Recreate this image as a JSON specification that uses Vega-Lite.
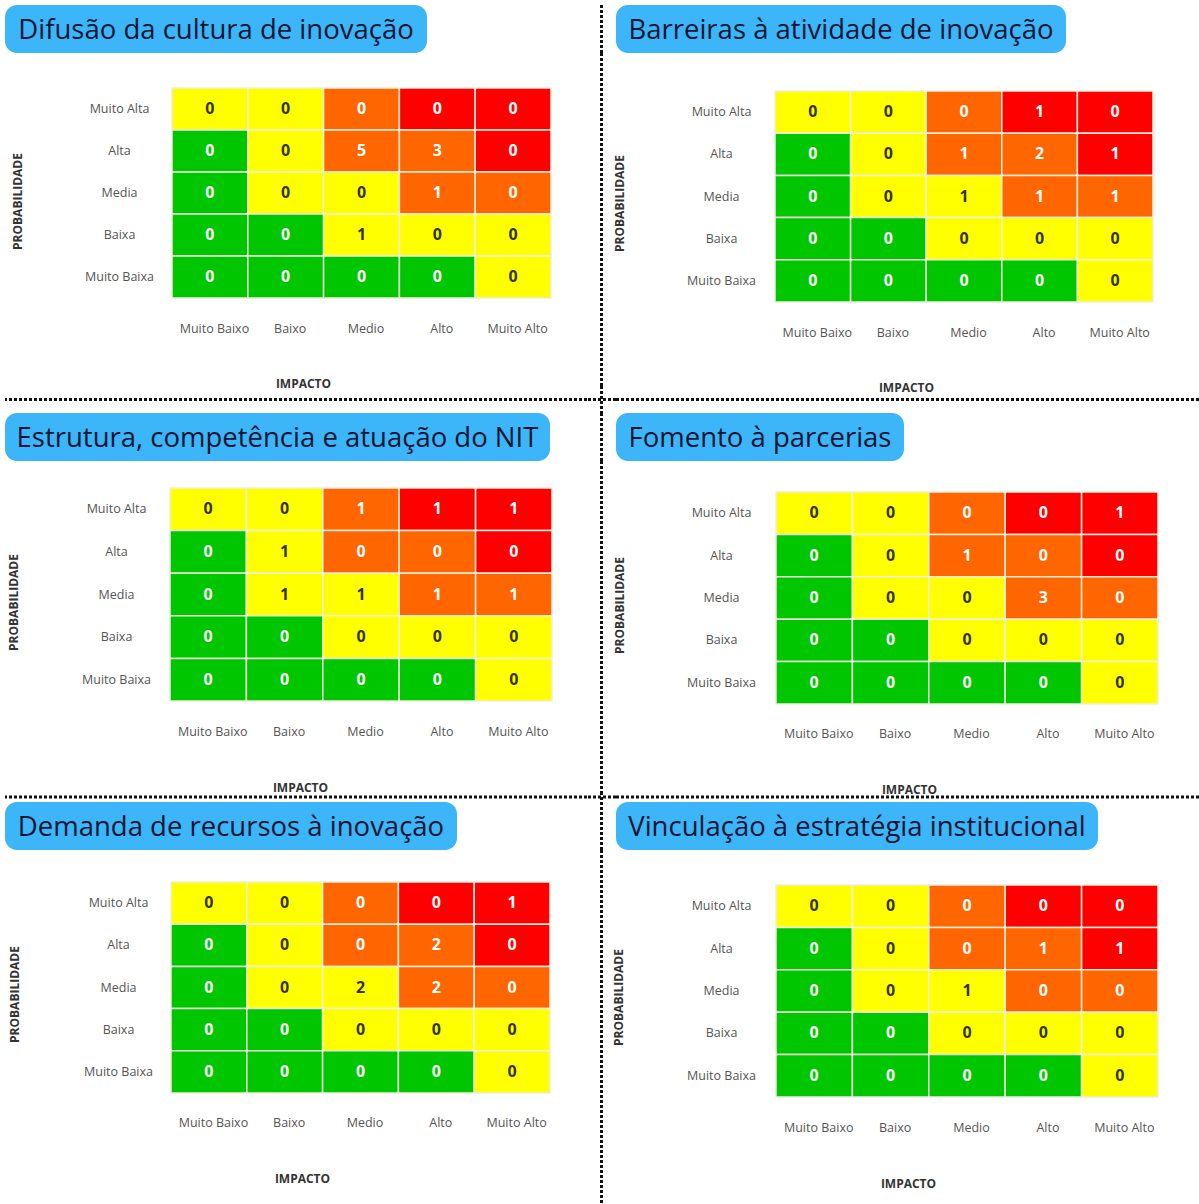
{
  "$schema": "https://vega.github.io/schema/vega-lite/v6.json",
  "background": "white",
  "padding": {"left": 3, "top": 3, "right": 0, "bottom": 0},
  "columns": 3,
  "spacing": 0,
  "bounds": "flush",
  "config": {
    "view": {"stroke": null},
    "font": "Open Sans",
    "axis": {
      "domain": false, "ticks": false, "tickSize": 0, "grid": false,
      "labelPadding": 0, "labelFont": "Open Sans", "labelFontSize": 12.5, "labelColor": "#555555",
      "labelBaseline": "middle",
      "titleFont": "Open Sans", "titleFontSize": 12, "titleFontWeight": "bold", "titleColor": "#333333"
    },
    "axisX": {"labelAngle": 0, "labelOffset": 4.5, "titleBaseline": "middle", "titleAlign": "center"},
    "axisY": {"labelAlign": "center", "titleAngle": 270, "titleBaseline": "middle", "titleAlign": "center"}
  },
  "datasets": {
    "riscos": [
      {"painel":"difusao","probabilidade":"Muito Alta","impacto":"Muito Baixo","nivel":"Moderado","qtd":0},
      {"painel":"difusao","probabilidade":"Muito Alta","impacto":"Baixo","nivel":"Moderado","qtd":0},
      {"painel":"difusao","probabilidade":"Muito Alta","impacto":"Medio","nivel":"Alto","qtd":0},
      {"painel":"difusao","probabilidade":"Muito Alta","impacto":"Alto","nivel":"Crítico","qtd":0},
      {"painel":"difusao","probabilidade":"Muito Alta","impacto":"Muito Alto","nivel":"Crítico","qtd":0},
      {"painel":"difusao","probabilidade":"Alta","impacto":"Muito Baixo","nivel":"Baixo","qtd":0},
      {"painel":"difusao","probabilidade":"Alta","impacto":"Baixo","nivel":"Moderado","qtd":0},
      {"painel":"difusao","probabilidade":"Alta","impacto":"Medio","nivel":"Alto","qtd":5},
      {"painel":"difusao","probabilidade":"Alta","impacto":"Alto","nivel":"Alto","qtd":3},
      {"painel":"difusao","probabilidade":"Alta","impacto":"Muito Alto","nivel":"Crítico","qtd":0},
      {"painel":"difusao","probabilidade":"Media","impacto":"Muito Baixo","nivel":"Baixo","qtd":0},
      {"painel":"difusao","probabilidade":"Media","impacto":"Baixo","nivel":"Moderado","qtd":0},
      {"painel":"difusao","probabilidade":"Media","impacto":"Medio","nivel":"Moderado","qtd":0},
      {"painel":"difusao","probabilidade":"Media","impacto":"Alto","nivel":"Alto","qtd":1},
      {"painel":"difusao","probabilidade":"Media","impacto":"Muito Alto","nivel":"Alto","qtd":0},
      {"painel":"difusao","probabilidade":"Baixa","impacto":"Muito Baixo","nivel":"Baixo","qtd":0},
      {"painel":"difusao","probabilidade":"Baixa","impacto":"Baixo","nivel":"Baixo","qtd":0},
      {"painel":"difusao","probabilidade":"Baixa","impacto":"Medio","nivel":"Moderado","qtd":1},
      {"painel":"difusao","probabilidade":"Baixa","impacto":"Alto","nivel":"Moderado","qtd":0},
      {"painel":"difusao","probabilidade":"Baixa","impacto":"Muito Alto","nivel":"Moderado","qtd":0},
      {"painel":"difusao","probabilidade":"Muito Baixa","impacto":"Muito Baixo","nivel":"Baixo","qtd":0},
      {"painel":"difusao","probabilidade":"Muito Baixa","impacto":"Baixo","nivel":"Baixo","qtd":0},
      {"painel":"difusao","probabilidade":"Muito Baixa","impacto":"Medio","nivel":"Baixo","qtd":0},
      {"painel":"difusao","probabilidade":"Muito Baixa","impacto":"Alto","nivel":"Baixo","qtd":0},
      {"painel":"difusao","probabilidade":"Muito Baixa","impacto":"Muito Alto","nivel":"Moderado","qtd":0},

      {"painel":"barreiras","probabilidade":"Muito Alta","impacto":"Muito Baixo","nivel":"Moderado","qtd":0},
      {"painel":"barreiras","probabilidade":"Muito Alta","impacto":"Baixo","nivel":"Moderado","qtd":0},
      {"painel":"barreiras","probabilidade":"Muito Alta","impacto":"Medio","nivel":"Alto","qtd":0},
      {"painel":"barreiras","probabilidade":"Muito Alta","impacto":"Alto","nivel":"Crítico","qtd":1},
      {"painel":"barreiras","probabilidade":"Muito Alta","impacto":"Muito Alto","nivel":"Crítico","qtd":0},
      {"painel":"barreiras","probabilidade":"Alta","impacto":"Muito Baixo","nivel":"Baixo","qtd":0},
      {"painel":"barreiras","probabilidade":"Alta","impacto":"Baixo","nivel":"Moderado","qtd":0},
      {"painel":"barreiras","probabilidade":"Alta","impacto":"Medio","nivel":"Alto","qtd":1},
      {"painel":"barreiras","probabilidade":"Alta","impacto":"Alto","nivel":"Alto","qtd":2},
      {"painel":"barreiras","probabilidade":"Alta","impacto":"Muito Alto","nivel":"Crítico","qtd":1},
      {"painel":"barreiras","probabilidade":"Media","impacto":"Muito Baixo","nivel":"Baixo","qtd":0},
      {"painel":"barreiras","probabilidade":"Media","impacto":"Baixo","nivel":"Moderado","qtd":0},
      {"painel":"barreiras","probabilidade":"Media","impacto":"Medio","nivel":"Moderado","qtd":1},
      {"painel":"barreiras","probabilidade":"Media","impacto":"Alto","nivel":"Alto","qtd":1},
      {"painel":"barreiras","probabilidade":"Media","impacto":"Muito Alto","nivel":"Alto","qtd":1},
      {"painel":"barreiras","probabilidade":"Baixa","impacto":"Muito Baixo","nivel":"Baixo","qtd":0},
      {"painel":"barreiras","probabilidade":"Baixa","impacto":"Baixo","nivel":"Baixo","qtd":0},
      {"painel":"barreiras","probabilidade":"Baixa","impacto":"Medio","nivel":"Moderado","qtd":0},
      {"painel":"barreiras","probabilidade":"Baixa","impacto":"Alto","nivel":"Moderado","qtd":0},
      {"painel":"barreiras","probabilidade":"Baixa","impacto":"Muito Alto","nivel":"Moderado","qtd":0},
      {"painel":"barreiras","probabilidade":"Muito Baixa","impacto":"Muito Baixo","nivel":"Baixo","qtd":0},
      {"painel":"barreiras","probabilidade":"Muito Baixa","impacto":"Baixo","nivel":"Baixo","qtd":0},
      {"painel":"barreiras","probabilidade":"Muito Baixa","impacto":"Medio","nivel":"Baixo","qtd":0},
      {"painel":"barreiras","probabilidade":"Muito Baixa","impacto":"Alto","nivel":"Baixo","qtd":0},
      {"painel":"barreiras","probabilidade":"Muito Baixa","impacto":"Muito Alto","nivel":"Moderado","qtd":0},

      {"painel":"estrutura","probabilidade":"Muito Alta","impacto":"Muito Baixo","nivel":"Moderado","qtd":0},
      {"painel":"estrutura","probabilidade":"Muito Alta","impacto":"Baixo","nivel":"Moderado","qtd":0},
      {"painel":"estrutura","probabilidade":"Muito Alta","impacto":"Medio","nivel":"Alto","qtd":1},
      {"painel":"estrutura","probabilidade":"Muito Alta","impacto":"Alto","nivel":"Crítico","qtd":1},
      {"painel":"estrutura","probabilidade":"Muito Alta","impacto":"Muito Alto","nivel":"Crítico","qtd":1},
      {"painel":"estrutura","probabilidade":"Alta","impacto":"Muito Baixo","nivel":"Baixo","qtd":0},
      {"painel":"estrutura","probabilidade":"Alta","impacto":"Baixo","nivel":"Moderado","qtd":1},
      {"painel":"estrutura","probabilidade":"Alta","impacto":"Medio","nivel":"Alto","qtd":0},
      {"painel":"estrutura","probabilidade":"Alta","impacto":"Alto","nivel":"Alto","qtd":0},
      {"painel":"estrutura","probabilidade":"Alta","impacto":"Muito Alto","nivel":"Crítico","qtd":0},
      {"painel":"estrutura","probabilidade":"Media","impacto":"Muito Baixo","nivel":"Baixo","qtd":0},
      {"painel":"estrutura","probabilidade":"Media","impacto":"Baixo","nivel":"Moderado","qtd":1},
      {"painel":"estrutura","probabilidade":"Media","impacto":"Medio","nivel":"Moderado","qtd":1},
      {"painel":"estrutura","probabilidade":"Media","impacto":"Alto","nivel":"Alto","qtd":1},
      {"painel":"estrutura","probabilidade":"Media","impacto":"Muito Alto","nivel":"Alto","qtd":1},
      {"painel":"estrutura","probabilidade":"Baixa","impacto":"Muito Baixo","nivel":"Baixo","qtd":0},
      {"painel":"estrutura","probabilidade":"Baixa","impacto":"Baixo","nivel":"Baixo","qtd":0},
      {"painel":"estrutura","probabilidade":"Baixa","impacto":"Medio","nivel":"Moderado","qtd":0},
      {"painel":"estrutura","probabilidade":"Baixa","impacto":"Alto","nivel":"Moderado","qtd":0},
      {"painel":"estrutura","probabilidade":"Baixa","impacto":"Muito Alto","nivel":"Moderado","qtd":0},
      {"painel":"estrutura","probabilidade":"Muito Baixa","impacto":"Muito Baixo","nivel":"Baixo","qtd":0},
      {"painel":"estrutura","probabilidade":"Muito Baixa","impacto":"Baixo","nivel":"Baixo","qtd":0},
      {"painel":"estrutura","probabilidade":"Muito Baixa","impacto":"Medio","nivel":"Baixo","qtd":0},
      {"painel":"estrutura","probabilidade":"Muito Baixa","impacto":"Alto","nivel":"Baixo","qtd":0},
      {"painel":"estrutura","probabilidade":"Muito Baixa","impacto":"Muito Alto","nivel":"Moderado","qtd":0},

      {"painel":"fomento","probabilidade":"Muito Alta","impacto":"Muito Baixo","nivel":"Moderado","qtd":0},
      {"painel":"fomento","probabilidade":"Muito Alta","impacto":"Baixo","nivel":"Moderado","qtd":0},
      {"painel":"fomento","probabilidade":"Muito Alta","impacto":"Medio","nivel":"Alto","qtd":0},
      {"painel":"fomento","probabilidade":"Muito Alta","impacto":"Alto","nivel":"Crítico","qtd":0},
      {"painel":"fomento","probabilidade":"Muito Alta","impacto":"Muito Alto","nivel":"Crítico","qtd":1},
      {"painel":"fomento","probabilidade":"Alta","impacto":"Muito Baixo","nivel":"Baixo","qtd":0},
      {"painel":"fomento","probabilidade":"Alta","impacto":"Baixo","nivel":"Moderado","qtd":0},
      {"painel":"fomento","probabilidade":"Alta","impacto":"Medio","nivel":"Alto","qtd":1},
      {"painel":"fomento","probabilidade":"Alta","impacto":"Alto","nivel":"Alto","qtd":0},
      {"painel":"fomento","probabilidade":"Alta","impacto":"Muito Alto","nivel":"Crítico","qtd":0},
      {"painel":"fomento","probabilidade":"Media","impacto":"Muito Baixo","nivel":"Baixo","qtd":0},
      {"painel":"fomento","probabilidade":"Media","impacto":"Baixo","nivel":"Moderado","qtd":0},
      {"painel":"fomento","probabilidade":"Media","impacto":"Medio","nivel":"Moderado","qtd":0},
      {"painel":"fomento","probabilidade":"Media","impacto":"Alto","nivel":"Alto","qtd":3},
      {"painel":"fomento","probabilidade":"Media","impacto":"Muito Alto","nivel":"Alto","qtd":0},
      {"painel":"fomento","probabilidade":"Baixa","impacto":"Muito Baixo","nivel":"Baixo","qtd":0},
      {"painel":"fomento","probabilidade":"Baixa","impacto":"Baixo","nivel":"Baixo","qtd":0},
      {"painel":"fomento","probabilidade":"Baixa","impacto":"Medio","nivel":"Moderado","qtd":0},
      {"painel":"fomento","probabilidade":"Baixa","impacto":"Alto","nivel":"Moderado","qtd":0},
      {"painel":"fomento","probabilidade":"Baixa","impacto":"Muito Alto","nivel":"Moderado","qtd":0},
      {"painel":"fomento","probabilidade":"Muito Baixa","impacto":"Muito Baixo","nivel":"Baixo","qtd":0},
      {"painel":"fomento","probabilidade":"Muito Baixa","impacto":"Baixo","nivel":"Baixo","qtd":0},
      {"painel":"fomento","probabilidade":"Muito Baixa","impacto":"Medio","nivel":"Baixo","qtd":0},
      {"painel":"fomento","probabilidade":"Muito Baixa","impacto":"Alto","nivel":"Baixo","qtd":0},
      {"painel":"fomento","probabilidade":"Muito Baixa","impacto":"Muito Alto","nivel":"Moderado","qtd":0},

      {"painel":"demanda","probabilidade":"Muito Alta","impacto":"Muito Baixo","nivel":"Moderado","qtd":0},
      {"painel":"demanda","probabilidade":"Muito Alta","impacto":"Baixo","nivel":"Moderado","qtd":0},
      {"painel":"demanda","probabilidade":"Muito Alta","impacto":"Medio","nivel":"Alto","qtd":0},
      {"painel":"demanda","probabilidade":"Muito Alta","impacto":"Alto","nivel":"Crítico","qtd":0},
      {"painel":"demanda","probabilidade":"Muito Alta","impacto":"Muito Alto","nivel":"Crítico","qtd":1},
      {"painel":"demanda","probabilidade":"Alta","impacto":"Muito Baixo","nivel":"Baixo","qtd":0},
      {"painel":"demanda","probabilidade":"Alta","impacto":"Baixo","nivel":"Moderado","qtd":0},
      {"painel":"demanda","probabilidade":"Alta","impacto":"Medio","nivel":"Alto","qtd":0},
      {"painel":"demanda","probabilidade":"Alta","impacto":"Alto","nivel":"Alto","qtd":2},
      {"painel":"demanda","probabilidade":"Alta","impacto":"Muito Alto","nivel":"Crítico","qtd":0},
      {"painel":"demanda","probabilidade":"Media","impacto":"Muito Baixo","nivel":"Baixo","qtd":0},
      {"painel":"demanda","probabilidade":"Media","impacto":"Baixo","nivel":"Moderado","qtd":0},
      {"painel":"demanda","probabilidade":"Media","impacto":"Medio","nivel":"Moderado","qtd":2},
      {"painel":"demanda","probabilidade":"Media","impacto":"Alto","nivel":"Alto","qtd":2},
      {"painel":"demanda","probabilidade":"Media","impacto":"Muito Alto","nivel":"Alto","qtd":0},
      {"painel":"demanda","probabilidade":"Baixa","impacto":"Muito Baixo","nivel":"Baixo","qtd":0},
      {"painel":"demanda","probabilidade":"Baixa","impacto":"Baixo","nivel":"Baixo","qtd":0},
      {"painel":"demanda","probabilidade":"Baixa","impacto":"Medio","nivel":"Moderado","qtd":0},
      {"painel":"demanda","probabilidade":"Baixa","impacto":"Alto","nivel":"Moderado","qtd":0},
      {"painel":"demanda","probabilidade":"Baixa","impacto":"Muito Alto","nivel":"Moderado","qtd":0},
      {"painel":"demanda","probabilidade":"Muito Baixa","impacto":"Muito Baixo","nivel":"Baixo","qtd":0},
      {"painel":"demanda","probabilidade":"Muito Baixa","impacto":"Baixo","nivel":"Baixo","qtd":0},
      {"painel":"demanda","probabilidade":"Muito Baixa","impacto":"Medio","nivel":"Baixo","qtd":0},
      {"painel":"demanda","probabilidade":"Muito Baixa","impacto":"Alto","nivel":"Baixo","qtd":0},
      {"painel":"demanda","probabilidade":"Muito Baixa","impacto":"Muito Alto","nivel":"Moderado","qtd":0},

      {"painel":"vinculacao","probabilidade":"Muito Alta","impacto":"Muito Baixo","nivel":"Moderado","qtd":0},
      {"painel":"vinculacao","probabilidade":"Muito Alta","impacto":"Baixo","nivel":"Moderado","qtd":0},
      {"painel":"vinculacao","probabilidade":"Muito Alta","impacto":"Medio","nivel":"Alto","qtd":0},
      {"painel":"vinculacao","probabilidade":"Muito Alta","impacto":"Alto","nivel":"Crítico","qtd":0},
      {"painel":"vinculacao","probabilidade":"Muito Alta","impacto":"Muito Alto","nivel":"Crítico","qtd":0},
      {"painel":"vinculacao","probabilidade":"Alta","impacto":"Muito Baixo","nivel":"Baixo","qtd":0},
      {"painel":"vinculacao","probabilidade":"Alta","impacto":"Baixo","nivel":"Moderado","qtd":0},
      {"painel":"vinculacao","probabilidade":"Alta","impacto":"Medio","nivel":"Alto","qtd":0},
      {"painel":"vinculacao","probabilidade":"Alta","impacto":"Alto","nivel":"Alto","qtd":1},
      {"painel":"vinculacao","probabilidade":"Alta","impacto":"Muito Alto","nivel":"Crítico","qtd":1},
      {"painel":"vinculacao","probabilidade":"Media","impacto":"Muito Baixo","nivel":"Baixo","qtd":0},
      {"painel":"vinculacao","probabilidade":"Media","impacto":"Baixo","nivel":"Moderado","qtd":0},
      {"painel":"vinculacao","probabilidade":"Media","impacto":"Medio","nivel":"Moderado","qtd":1},
      {"painel":"vinculacao","probabilidade":"Media","impacto":"Alto","nivel":"Alto","qtd":0},
      {"painel":"vinculacao","probabilidade":"Media","impacto":"Muito Alto","nivel":"Alto","qtd":0},
      {"painel":"vinculacao","probabilidade":"Baixa","impacto":"Muito Baixo","nivel":"Baixo","qtd":0},
      {"painel":"vinculacao","probabilidade":"Baixa","impacto":"Baixo","nivel":"Baixo","qtd":0},
      {"painel":"vinculacao","probabilidade":"Baixa","impacto":"Medio","nivel":"Moderado","qtd":0},
      {"painel":"vinculacao","probabilidade":"Baixa","impacto":"Alto","nivel":"Moderado","qtd":0},
      {"painel":"vinculacao","probabilidade":"Baixa","impacto":"Muito Alto","nivel":"Moderado","qtd":0},
      {"painel":"vinculacao","probabilidade":"Muito Baixa","impacto":"Muito Baixo","nivel":"Baixo","qtd":0},
      {"painel":"vinculacao","probabilidade":"Muito Baixa","impacto":"Baixo","nivel":"Baixo","qtd":0},
      {"painel":"vinculacao","probabilidade":"Muito Baixa","impacto":"Medio","nivel":"Baixo","qtd":0},
      {"painel":"vinculacao","probabilidade":"Muito Baixa","impacto":"Alto","nivel":"Baixo","qtd":0},
      {"painel":"vinculacao","probabilidade":"Muito Baixa","impacto":"Muito Alto","nivel":"Moderado","qtd":0}
    ]
  },
  "concat": [
    {"width": 422, "height": 48, "view": {"fill": "#3cb5f9", "stroke": null, "cornerRadius": 12},
     "data": {"values": [{"titulo": "Difusão da cultura de inovação"}]},
     "mark": {"type": "text", "font": "Open Sans", "fontSize": 27.5, "color": "#0a1533", "align": "center", "baseline": "middle", "dy": 2},
     "encoding": {"text": {"field": "titulo"}}},
    {"width": 29, "height": 48, "data": {"values": [{}]},
     "mark": {"type": "rule", "color": "#111111", "strokeWidth": 3, "strokeDash": [3, 2]},
     "encoding": {"x": {"datum": 0.5, "type": "quantitative", "scale": {"domain": [0, 1]}, "axis": null}}},
    {"width": 450, "height": 48, "view": {"fill": "#3cb5f9", "stroke": null, "cornerRadius": 12},
     "data": {"values": [{"titulo": "Barreiras à atividade de inovação"}]},
     "mark": {"type": "text", "font": "Open Sans", "fontSize": 27.5, "color": "#0a1533", "align": "center", "baseline": "middle", "dy": 2},
     "encoding": {"text": {"field": "titulo"}}},

    {"width": 582, "height": 333, "data": {"name": "riscos"},
     "transform": [{"filter": "datum.painel === 'difusao'"}],
     "encoding": {
       "x": {"field": "impacto", "type": "nominal", "sort": ["Muito Baixo", "Baixo", "Medio", "Alto", "Muito Alto"],
             "scale": {"range": [167, 546], "paddingInner": 0, "paddingOuter": 0},
             "axis": {"orient": "bottom", "offset": -58, "title": "IMPACTO", "titleX": 298, "titleY": 55}},
       "y": {"field": "probabilidade", "type": "nominal", "sort": ["Muito Alta", "Alta", "Media", "Baixa", "Muito Baixa"],
             "scale": {"range": [35, 245], "paddingInner": 0, "paddingOuter": 0},
             "axis": {"offset": -114, "title": "PROBABILIDADE", "titleX": -102, "titleY": 148}}
     },
     "layer": [
       {"mark": {"type": "rect", "stroke": "#eeeedd", "strokeWidth": 1.5},
        "encoding": {"color": {"field": "nivel", "type": "nominal", "legend": null,
          "scale": {"domain": ["Baixo", "Moderado", "Alto", "Crítico"], "range": ["#00c600", "#ffff00", "#ff6600", "#fe0000"]}}}},
       {"mark": {"type": "text", "font": "Open Sans", "fontSize": 16, "fontWeight": "bold"},
        "encoding": {"text": {"field": "qtd", "type": "quantitative"},
          "color": {"condition": {"test": "datum.nivel === 'Moderado'", "value": "#33331c"}, "value": "#ffffff"}}}
     ]},
    {"width": 29, "height": 333, "data": {"values": [{}]},
     "mark": {"type": "rule", "color": "#111111", "strokeWidth": 3, "strokeDash": [3, 2]},
     "encoding": {"x": {"datum": 0.5, "type": "quantitative", "scale": {"domain": [0, 1]}, "axis": null}}},
    {"width": 583, "height": 333, "data": {"name": "riscos"},
     "transform": [{"filter": "datum.painel === 'barreiras'"}],
     "encoding": {
       "x": {"field": "impacto", "type": "nominal", "sort": ["Muito Baixo", "Baixo", "Medio", "Alto", "Muito Alto"],
             "scale": {"range": [159, 537], "paddingInner": 0, "paddingOuter": 0},
             "axis": {"orient": "bottom", "offset": -54, "title": "IMPACTO", "titleX": 290, "titleY": 55}},
       "y": {"field": "probabilidade", "type": "nominal", "sort": ["Muito Alta", "Alta", "Media", "Baixa", "Muito Baixa"],
             "scale": {"range": [38, 249], "paddingInner": 0, "paddingOuter": 0},
             "axis": {"offset": -105, "title": "PROBABILIDADE", "titleX": -102, "titleY": 150}}
     },
     "layer": [
       {"mark": {"type": "rect", "stroke": "#eeeedd", "strokeWidth": 1.5},
        "encoding": {"color": {"field": "nivel", "type": "nominal", "legend": null,
          "scale": {"domain": ["Baixo", "Moderado", "Alto", "Crítico"], "range": ["#00c600", "#ffff00", "#ff6600", "#fe0000"]}}}},
       {"mark": {"type": "text", "font": "Open Sans", "fontSize": 16, "fontWeight": "bold"},
        "encoding": {"text": {"field": "qtd", "type": "quantitative"},
          "color": {"condition": {"test": "datum.nivel === 'Moderado'", "value": "#33331c"}, "value": "#ffffff"}}}
     ]},

    {"width": 582, "height": 27, "data": {"values": [{}]},
     "mark": {"type": "rule", "color": "#111111", "strokeWidth": 3, "strokeDash": [3, 2]},
     "encoding": {"y": {"datum": 0.5, "type": "quantitative", "scale": {"domain": [0, 1]}, "axis": null}}},
    {"width": 29, "height": 27, "data": {"values": [{}]},
     "layer": [
       {"mark": {"type": "rule", "color": "#111111", "strokeWidth": 3, "strokeDash": [3, 2]},
        "encoding": {"x": {"datum": 0.5, "type": "quantitative", "scale": {"domain": [0, 1]}, "axis": null}}},
       {"mark": {"type": "rule", "color": "#111111", "strokeWidth": 3, "strokeDash": [3, 2]},
        "encoding": {"y": {"datum": 0.5, "type": "quantitative", "scale": {"domain": [0, 1]}, "axis": null}}}
     ]},
    {"width": 583, "height": 27, "data": {"values": [{}]},
     "mark": {"type": "rule", "color": "#111111", "strokeWidth": 3, "strokeDash": [3, 2]},
     "encoding": {"y": {"datum": 0.5, "type": "quantitative", "scale": {"domain": [0, 1]}, "axis": null}}},

    {"width": 545, "height": 48, "view": {"fill": "#3cb5f9", "stroke": null, "cornerRadius": 12},
     "data": {"values": [{"titulo": "Estrutura, competência e atuação do NIT"}]},
     "mark": {"type": "text", "font": "Open Sans", "fontSize": 27.5, "color": "#0a1533", "align": "center", "baseline": "middle", "dy": 2},
     "encoding": {"text": {"field": "titulo"}}},
    {"width": 29, "height": 48, "data": {"values": [{}]},
     "mark": {"type": "rule", "color": "#111111", "strokeWidth": 3, "strokeDash": [3, 2]},
     "encoding": {"x": {"datum": 0.5, "type": "quantitative", "scale": {"domain": [0, 1]}, "axis": null}}},
    {"width": 288, "height": 48, "view": {"fill": "#3cb5f9", "stroke": null, "cornerRadius": 12},
     "data": {"values": [{"titulo": "Fomento à parcerias"}]},
     "mark": {"type": "text", "font": "Open Sans", "fontSize": 27.5, "color": "#0a1533", "align": "center", "baseline": "middle", "dy": 2},
     "encoding": {"text": {"field": "titulo"}}},

    {"width": 582, "height": 331, "data": {"name": "riscos"},
     "transform": [{"filter": "datum.painel === 'estrutura'"}],
     "encoding": {
       "x": {"field": "impacto", "type": "nominal", "sort": ["Muito Baixo", "Baixo", "Medio", "Alto", "Muito Alto"],
             "scale": {"range": [165, 547], "paddingInner": 0, "paddingOuter": 0},
             "axis": {"orient": "bottom", "offset": -61, "title": "IMPACTO", "titleX": 295, "titleY": 56}},
       "y": {"field": "probabilidade", "type": "nominal", "sort": ["Muito Alta", "Alta", "Media", "Baixa", "Muito Baixa"],
             "scale": {"range": [27, 240], "paddingInner": 0, "paddingOuter": 0},
             "axis": {"offset": -111, "title": "PROBABILIDADE", "titleX": -103, "titleY": 141}}
     },
     "layer": [
       {"mark": {"type": "rect", "stroke": "#eeeedd", "strokeWidth": 1.5},
        "encoding": {"color": {"field": "nivel", "type": "nominal", "legend": null,
          "scale": {"domain": ["Baixo", "Moderado", "Alto", "Crítico"], "range": ["#00c600", "#ffff00", "#ff6600", "#fe0000"]}}}},
       {"mark": {"type": "text", "font": "Open Sans", "fontSize": 16, "fontWeight": "bold"},
        "encoding": {"text": {"field": "qtd", "type": "quantitative"},
          "color": {"condition": {"test": "datum.nivel === 'Moderado'", "value": "#33331c"}, "value": "#ffffff"}}}
     ]},
    {"width": 29, "height": 331, "data": {"values": [{}]},
     "mark": {"type": "rule", "color": "#111111", "strokeWidth": 3, "strokeDash": [3, 2]},
     "encoding": {"x": {"datum": 0.5, "type": "quantitative", "scale": {"domain": [0, 1]}, "axis": null}}},
    {"width": 583, "height": 331, "data": {"name": "riscos"},
     "transform": [{"filter": "datum.painel === 'fomento'"}],
     "encoding": {
       "x": {"field": "impacto", "type": "nominal", "sort": ["Muito Baixo", "Baixo", "Medio", "Alto", "Muito Alto"],
             "scale": {"range": [160, 542], "paddingInner": 0, "paddingOuter": 0},
             "axis": {"orient": "bottom", "offset": -59, "title": "IMPACTO", "titleX": 293, "titleY": 56}},
       "y": {"field": "probabilidade", "type": "nominal", "sort": ["Muito Alta", "Alta", "Media", "Baixa", "Muito Baixa"],
             "scale": {"range": [31, 243], "paddingInner": 0, "paddingOuter": 0},
             "axis": {"offset": -105, "title": "PROBABILIDADE", "titleX": -102, "titleY": 144}}
     },
     "layer": [
       {"mark": {"type": "rect", "stroke": "#eeeedd", "strokeWidth": 1.5},
        "encoding": {"color": {"field": "nivel", "type": "nominal", "legend": null,
          "scale": {"domain": ["Baixo", "Moderado", "Alto", "Crítico"], "range": ["#00c600", "#ffff00", "#ff6600", "#fe0000"]}}}},
       {"mark": {"type": "text", "font": "Open Sans", "fontSize": 16, "fontWeight": "bold"},
        "encoding": {"text": {"field": "qtd", "type": "quantitative"},
          "color": {"condition": {"test": "datum.nivel === 'Moderado'", "value": "#33331c"}, "value": "#ffffff"}}}
     ]},

    {"width": 582, "height": 10, "data": {"values": [{}]},
     "mark": {"type": "rule", "color": "#111111", "strokeWidth": 3, "strokeDash": [3, 2]},
     "encoding": {"y": {"datum": 0.5, "type": "quantitative", "scale": {"domain": [0, 1]}, "axis": null}}},
    {"width": 29, "height": 10, "data": {"values": [{}]},
     "layer": [
       {"mark": {"type": "rule", "color": "#111111", "strokeWidth": 3, "strokeDash": [3, 2]},
        "encoding": {"x": {"datum": 0.5, "type": "quantitative", "scale": {"domain": [0, 1]}, "axis": null}}},
       {"mark": {"type": "rule", "color": "#111111", "strokeWidth": 3, "strokeDash": [3, 2]},
        "encoding": {"y": {"datum": 0.5, "type": "quantitative", "scale": {"domain": [0, 1]}, "axis": null}}}
     ]},
    {"width": 583, "height": 10, "data": {"values": [{}]},
     "mark": {"type": "rule", "color": "#111111", "strokeWidth": 3, "strokeDash": [3, 2]},
     "encoding": {"y": {"datum": 0.5, "type": "quantitative", "scale": {"domain": [0, 1]}, "axis": null}}},

    {"width": 452, "height": 48, "view": {"fill": "#3cb5f9", "stroke": null, "cornerRadius": 12},
     "data": {"values": [{"titulo": "Demanda de recursos à inovação"}]},
     "mark": {"type": "text", "font": "Open Sans", "fontSize": 27.5, "color": "#0a1533", "align": "center", "baseline": "middle", "dy": 2},
     "encoding": {"text": {"field": "titulo"}}},
    {"width": 29, "height": 48, "data": {"values": [{}]},
     "mark": {"type": "rule", "color": "#111111", "strokeWidth": 3, "strokeDash": [3, 2]},
     "encoding": {"x": {"datum": 0.5, "type": "quantitative", "scale": {"domain": [0, 1]}, "axis": null}}},
    {"width": 482, "height": 48, "view": {"fill": "#3cb5f9", "stroke": null, "cornerRadius": 12},
     "data": {"values": [{"titulo": "Vinculação à estratégia institucional"}]},
     "mark": {"type": "text", "font": "Open Sans", "fontSize": 27.5, "color": "#0a1533", "align": "center", "baseline": "middle", "dy": 2},
     "encoding": {"text": {"field": "titulo"}}},

    {"width": 582, "height": 354, "data": {"name": "riscos"},
     "transform": [{"filter": "datum.painel === 'demanda'"}],
     "encoding": {
       "x": {"field": "impacto", "type": "nominal", "sort": ["Muito Baixo", "Baixo", "Medio", "Alto", "Muito Alto"],
             "scale": {"range": [166, 545], "paddingInner": 0, "paddingOuter": 0},
             "axis": {"orient": "bottom", "offset": -82, "title": "IMPACTO", "titleX": 297, "titleY": 56}},
       "y": {"field": "probabilidade", "type": "nominal", "sort": ["Muito Alta", "Alta", "Media", "Baixa", "Muito Baixa"],
             "scale": {"range": [32, 243], "paddingInner": 0, "paddingOuter": 0},
             "axis": {"offset": -113, "title": "PROBABILIDADE", "titleX": -103.5, "titleY": 144}}
     },
     "layer": [
       {"mark": {"type": "rect", "stroke": "#eeeedd", "strokeWidth": 1.5},
        "encoding": {"color": {"field": "nivel", "type": "nominal", "legend": null,
          "scale": {"domain": ["Baixo", "Moderado", "Alto", "Crítico"], "range": ["#00c600", "#ffff00", "#ff6600", "#fe0000"]}}}},
       {"mark": {"type": "text", "font": "Open Sans", "fontSize": 16, "fontWeight": "bold"},
        "encoding": {"text": {"field": "qtd", "type": "quantitative"},
          "color": {"condition": {"test": "datum.nivel === 'Moderado'", "value": "#33331c"}, "value": "#ffffff"}}}
     ]},
    {"width": 29, "height": 354, "data": {"values": [{}]},
     "mark": {"type": "rule", "color": "#111111", "strokeWidth": 3, "strokeDash": [3, 2]},
     "encoding": {"x": {"datum": 0.5, "type": "quantitative", "scale": {"domain": [0, 1]}, "axis": null}}},
    {"width": 583, "height": 354, "data": {"name": "riscos"},
     "transform": [{"filter": "datum.painel === 'vinculacao'"}],
     "encoding": {
       "x": {"field": "impacto", "type": "nominal", "sort": ["Muito Baixo", "Baixo", "Medio", "Alto", "Muito Alto"],
             "scale": {"range": [160, 542], "paddingInner": 0, "paddingOuter": 0},
             "axis": {"orient": "bottom", "offset": -77, "title": "IMPACTO", "titleX": 292, "titleY": 56}},
       "y": {"field": "probabilidade", "type": "nominal", "sort": ["Muito Alta", "Alta", "Media", "Baixa", "Muito Baixa"],
             "scale": {"range": [35, 247], "paddingInner": 0, "paddingOuter": 0},
             "axis": {"offset": -105, "title": "PROBABILIDADE", "titleX": -103, "titleY": 147}}
     },
     "layer": [
       {"mark": {"type": "rect", "stroke": "#eeeedd", "strokeWidth": 1.5},
        "encoding": {"color": {"field": "nivel", "type": "nominal", "legend": null,
          "scale": {"domain": ["Baixo", "Moderado", "Alto", "Crítico"], "range": ["#00c600", "#ffff00", "#ff6600", "#fe0000"]}}}},
       {"mark": {"type": "text", "font": "Open Sans", "fontSize": 16, "fontWeight": "bold"},
        "encoding": {"text": {"field": "qtd", "type": "quantitative"},
          "color": {"condition": {"test": "datum.nivel === 'Moderado'", "value": "#33331c"}, "value": "#ffffff"}}}
     ]}
  ]
}
